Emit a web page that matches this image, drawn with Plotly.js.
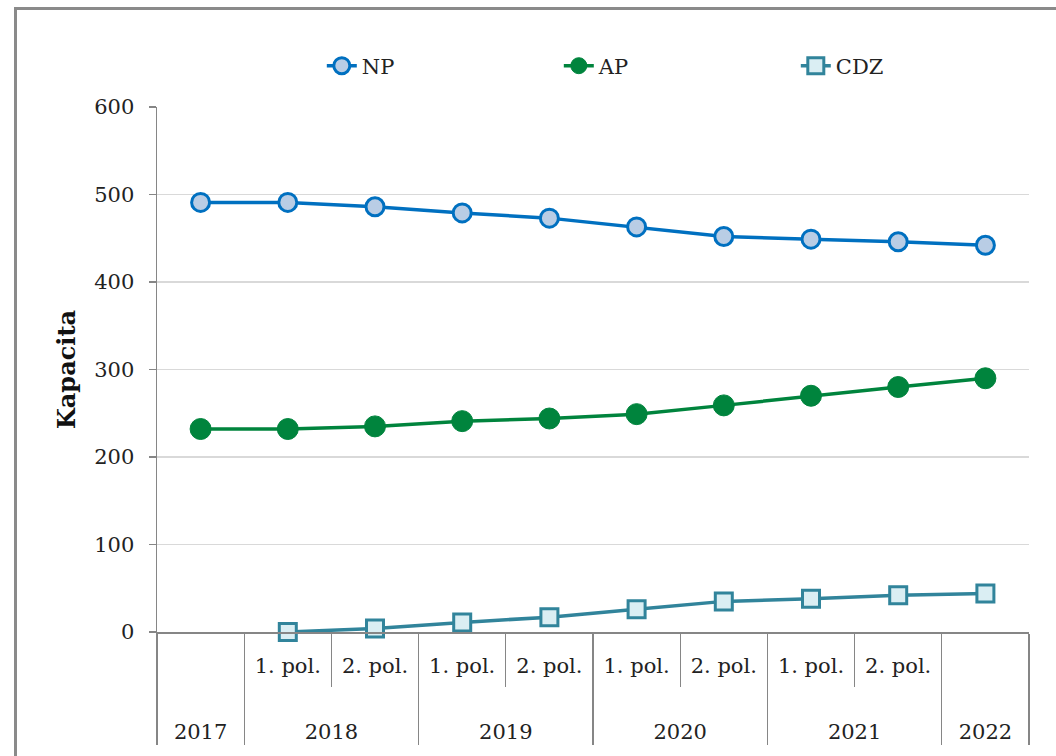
<!DOCTYPE html>
<html>
<head>
<meta charset="utf-8">
<script src="https://cdn.plot.ly/plotly-3.0.1.min.js"></script>
<style>
  html, body { margin: 0; padding: 0; background: #ffffff; overflow: hidden; }
  #chart { position: absolute; left: 0; top: 0; width: 1056px; height: 756px; }
  #frame { position: absolute; left: 14px; top: 7px; width: 1100px; height: 800px;
           border-left: 3px solid #8a8a8a; border-top: 3px solid #8a8a8a; pointer-events: none; }
</style>
</head>
<body>
<div id="chart"></div>
<div id="frame"></div>
<script>
// ---- data ----
const years  = ["2017", "2018", "2018", "2019", "2019", "2020", "2020", "2021", "2021", "2022"];
const halves = [" ", "1. pol.", "2. pol.", "1. pol.", "2. pol.", "1. pol.", "2. pol.", "1. pol.", "2. pol.", "  "];
const npValues  = [491, 491, 486, 479, 473, 463, 452, 449, 446, 442];
const apValues  = [232, 232, 235, 241, 244, 249, 259, 270, 280, 290];
const cdzValues = [null, 0, 4, 11, 17, 26, 35, 38, 42, 44];
const seriesNames = ["NP", "AP", "CDZ"];

const FONT = "DejaVu Serif, Liberation Serif, serif";
// blank helper lines push the outer (year) row lower, as in the reference
const outerLabels = years.map(y => "\u00a0<br>" + y);
const innerLabels = halves.map(h => h + "<br>\u00a0");
const xCats = [outerLabels, innerLabels];

const traces = [
  {
    name: seriesNames[0], x: xCats, y: npValues, type: "scatter", mode: "lines+markers",
    line: { color: "#0070C0", width: 3.5 },
    marker: { symbol: "circle", size: 18, color: "#B9CDE5", line: { color: "#0070C0", width: 3 } },
    cliponaxis: false
  },
  {
    name: seriesNames[1], x: xCats, y: apValues, type: "scatter", mode: "lines+markers",
    line: { color: "#00843D", width: 3.5 },
    marker: { symbol: "circle", size: 21, color: "#00843D", line: { color: "#00843D", width: 1 } },
    cliponaxis: false
  },
  {
    name: seriesNames[2], x: xCats, y: cdzValues, type: "scatter", mode: "lines+markers",
    line: { color: "#31849B", width: 3.5 },
    marker: { symbol: "square", size: 17, color: "#DAEEF3", line: { color: "#31849B", width: 3 } },
    cliponaxis: false, connectgaps: false
  }
];

const layout = {
  width: 1056, height: 756,
  margin: { l: 157, r: 27, t: 107, b: 124 },
  paper_bgcolor: "#ffffff", plot_bgcolor: "#ffffff",
  font: { family: FONT, size: 21, color: "#222222" },
  showlegend: true,
  legend: {
    orientation: "h", x: 0.189, xanchor: "left", y: 1.078, yanchor: "middle",
    entrywidth: 192, entrywidthmode: "pixels",
    font: { family: FONT, size: 21, color: "#222222" },
    bgcolor: "rgba(0,0,0,0)"
  },
  xaxis: {
    type: "multicategory",
    range: [-0.5, 9.5],
    showgrid: false, zeroline: false,
    showline: true, linecolor: "#868686", linewidth: 1.5,
    ticks: "outside", tickson: "boundaries", ticklen: 53, tickcolor: "#868686", tickwidth: 1.2,
    showdividers: true, dividercolor: "#868686", dividerwidth: 1.2,
    ticklabelstandoff: 14,
    tickfont: { family: FONT, size: 21, color: "#222222" }
  },
  yaxis: {
    range: [0, 600], dtick: 100,
    showgrid: true, gridcolor: "#d9d9d9", gridwidth: 1.3,
    zeroline: false,
    showline: true, linecolor: "#868686", linewidth: 1.5,
    ticks: "outside", ticklen: 7, tickcolor: "#868686", tickwidth: 1.2,
    ticklabelstandoff: 10,
    tickfont: { family: FONT, size: 21, color: "#222222" },
    title: { text: "Kapacita", font: { family: FONT, size: 24, color: "#111111", weight: "bold" }, standoff: 12 }
  }
};

Plotly.newPlot("chart", traces, layout, { displayModeBar: false, staticPlot: true });
</script>
</body>
</html>
